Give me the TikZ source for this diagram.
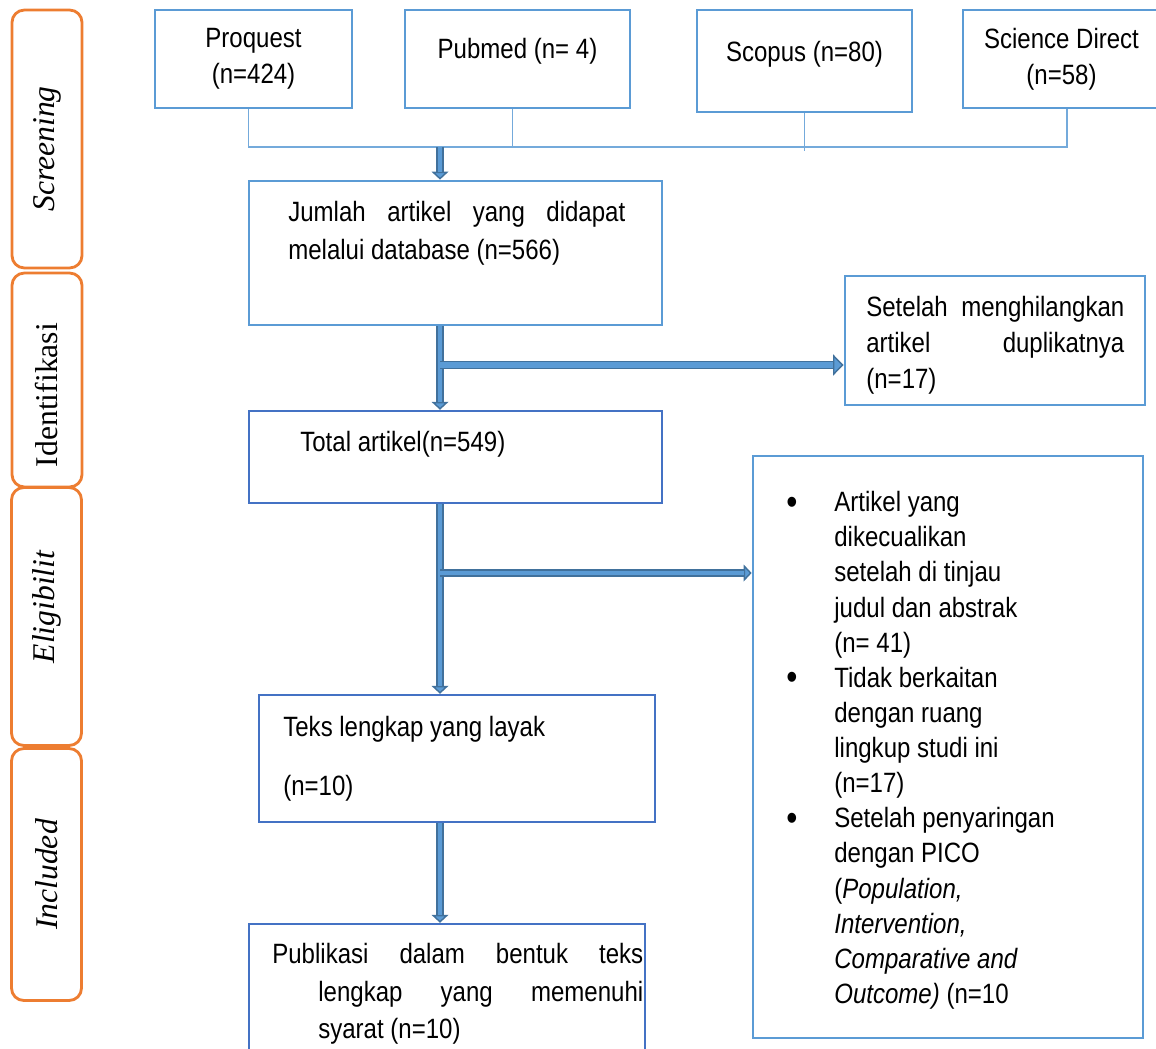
\documentclass[tikz,border=0pt]{standalone}
\usepackage{fontspec}
\setmainfont{Liberation Sans}[FakeStretch=0.86]
\newfontfamily\phasefont{Liberation Serif}
\usetikzlibrary{arrows.meta}
\definecolor{boxblue}{HTML}{5B9BD5}
\definecolor{boxdark}{HTML}{4472C4}
\definecolor{arrowfill}{HTML}{5B9BD5}
\definecolor{arrowedge}{HTML}{41719C}
\definecolor{phaseorange}{HTML}{ED7D31}
\newcommand{\bul}{\llap{\raisebox{-1.5pt}{\fontsize{21}{20}\selectfont\textbullet}\hspace{0.74cm}}}
\tikzset{
  box/.style={draw=boxblue,line width=1.6pt,rectangle,inner sep=0pt,align=center},
  boxd/.style={box,draw=boxdark,line width=1.4pt},
  txt/.style={anchor=north west,inner sep=0pt,align=justify},
  phase/.style={draw=phaseorange,line width=1.6pt,rounded corners=7pt,rotate=90,minimum height=1.4cm,
    font=\phasefont\fontsize{18}{20}\selectfont},
  link/.style={draw=boxblue!85,line width=0.8pt},
  flow/.style={draw=arrowfill,line width=2.2pt,shorten >=4.5pt,
    preaction={draw=arrowedge,line width=4pt,shorten >=0pt,
      -{Triangle[length=4.5pt,width=9.5pt,fill=arrowfill,line width=0.8pt]}}},
  flowthick/.style={draw=arrowfill,line width=3pt,shorten >=6pt,
    preaction={draw=arrowedge,line width=5pt,shorten >=0pt,
      -{Triangle[length=6pt,width=12pt,fill=arrowfill,line width=0.8pt]}}},
}
\begin{document}
\begin{tikzpicture}[x=0.02cm,y=-0.02cm,font=\fontsize{15.9}{20.4}\selectfont]
\useasboundingbox (0,0) rectangle (1156,1048);
% phases
\node[phase,minimum width=5.16cm](s_scr) at (47,139) {\itshape Screening\hspace{0.4cm}\mbox{}};
\node[phase,minimum width=4.28cm](s_idf) at (47,380) {Identifikasi\hspace{0.6cm}\mbox{}};
\node[phase,minimum width=5.16cm](s_elg) at (46.5,616.5) {\hspace{0.38cm}\itshape Eligibilit};
\node[phase,minimum width=5.04cm](s_inc) at (46.5,874.5) {\itshape Included};
% databases
\node[box,minimum width=3.94cm,minimum height=1.96cm](b_pq) at (253.5,59) {Proquest\\(n=424)};
\node[box,minimum width=4.5cm,minimum height=1.96cm](b_pm) at (517.5,59) {\raisebox{4.5pt}[\height][\depth]{Pubmed (n= 4)}};
\node[box,minimum width=4.3cm,minimum height=2.04cm](b_sc) at (804.5,61) {\raisebox{4pt}[\height][\depth]{Scopus (n=80)}};
\node[box,minimum width=3.94cm,minimum height=1.96cm](b_sd) at (1061.5,59) {Science Direct\\(n=58)};
\coordinate (bar) at (0,147);
\coordinate (spine) at (440,147);
\draw[link] ([xshift=-0.1cm]b_pq.south) -- ([xshift=-0.1cm]b_pq.south |- bar)
  -- ([xshift=0.11cm]b_sd.south |- bar) -- ([xshift=0.11cm]b_sd.south);
\draw[link] ([xshift=-0.1cm]b_pm.south) -- ([xshift=-0.1cm]b_pm.south |- bar);
\draw[link] (b_sc.south) -- ([yshift=-0.08cm]b_sc.south |- bar);
% main column
\node[box,minimum width=8.26cm,minimum height=2.88cm](b_jml) at (455.5,253) {};
\node[txt,text width=6.74cm,font=\fontsize{15.9}{21.5}\selectfont](t_jml) at (288,201)
  {Jumlah artikel yang didapat\linebreak melalui database (n=566)};
\node[box,minimum width=6cm,minimum height=2.58cm](b_dup) at (995,340.5) {};
\node[txt,text width=5.16cm](t_dup) at (866,296)
  {Setelah menghilangkan\linebreak artikel duplikatnya\linebreak (n=17)};
\node[boxd,minimum width=8.26cm,minimum height=1.84cm](b_tot) at (455.5,457) {};
\node[txt](t_tot) at (300,431) {Total artikel(n=549)};
\node[box,minimum width=7.8cm,minimum height=11.64cm](b_exc) at (948,747) {};
\node[txt,align=left,font=\fontsize{15.9}{20}\selectfont](t_exc) at (834,491)
  {\bul Artikel yang\\
   dikecualikan\\
   setelah di tinjau\\
   judul dan abstrak\\
   (n= 41)\\
   \bul Tidak berkaitan\\
   dengan ruang\\
   lingkup studi ini\\
   (n=17)\\
   \bul Setelah penyaringan\\
   dengan PICO\\
   (\textit{Population,}\\
   \textit{Intervention,}\\
   \textit{Comparative and}\\
   \textit{Outcome)} (n=10};
\node[boxd,minimum width=7.92cm,minimum height=2.54cm](b_teks) at (457,758.5) {};
\node[txt,align=left](t_teks) at (283,716) {Teks lengkap yang layak\\[13pt](n=10)};
\node[boxd,minimum width=7.92cm,minimum height=2.68cm](b_pub) at (447,991) {};
\node[txt,font=\fontsize{15.9}{21.3}\selectfont](t_pub) at (272,943)
  {\parbox[t]{7.42cm}{\hangindent=0.92cm\hangafter=1 Publikasi dalam bentuk teks\linebreak
   lengkap yang memenuhi\linebreak syarat (n=10)}};
% arrows
\coordinate (sp_1) at (440,365);
\coordinate (sp_2) at (440,573);
\draw[flow] (spine) -- (spine |- b_jml.north);
\draw[flow] (b_jml.south -| spine) -- (b_tot.north -| spine);
\draw[flowthick] (sp_1) -- (sp_1 -| b_dup.west);
\draw[flow] (b_tot.south -| spine) -- (b_teks.north -| spine);
\draw[flow] (sp_2) -- (sp_2 -| b_exc.west);
\draw[flow] (b_teks.south -| spine) -- (b_pub.north -| spine);
\end{tikzpicture}
\end{document}
